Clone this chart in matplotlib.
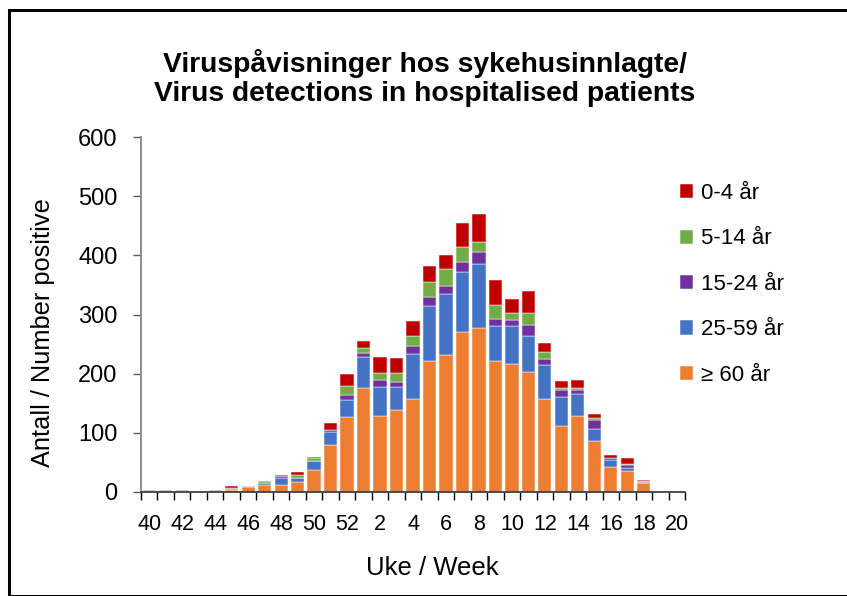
import numpy as np
import matplotlib.pyplot as plt
from matplotlib.patches import Rectangle

plt.rcParams['font.family'] = ['Liberation Sans', 'DejaVu Sans']

# weeks 40-52 then 1-20
weeks = list(range(40, 53)) + list(range(1, 21))
tick_labels = [str(w) if w % 2 == 0 else '' for w in weeks]

age_60 = [0, 0, 2, 0, 0, 3, 8, 12, 11, 17, 37, 79, 126, 176, 128, 138, 157,
          221, 232, 270, 278, 221, 217, 203, 157, 111, 128, 86, 42, 35, 15, 0, 0]
age_25_59 = [1, 1, 0, 0, 2, 2, 2, 4, 12, 6, 15, 22, 30, 53, 50, 40, 77,
             93, 103, 102, 107, 59, 63, 61, 57, 50, 38, 21, 12, 6, 2, 0, 0]
age_15_24 = [2, 2, 1, 0, 1, 1, 0, 0, 4, 0, 1, 4, 8, 6, 12, 8, 12,
             16, 13, 17, 20, 13, 11, 19, 10, 12, 7, 14, 3, 4, 2, 0, 0]
age_5_14 = [0, 0, 0, 0, 0, 0, 0, 2, 0, 6, 4, 0, 16, 8, 11, 15, 17,
            25, 29, 25, 17, 23, 11, 19, 13, 3, 3, 4, 0, 2, 0, 0, 0]
age_0_4 = [0, 0, 1, 0, 1, 4, 0, 0, 2, 4, 2, 12, 20, 12, 27, 25, 26,
           27, 23, 40, 48, 42, 25, 37, 14, 11, 13, 6, 6, 10, 2, 0, 0]

series = [
    ('≥ 60 år', age_60, '#ED7D31'),
    ('25-59 år', age_25_59, '#4472C4'),
    ('15-24 år', age_15_24, '#7030A0'),
    ('5-14 år', age_5_14, '#70AD47'),
    ('0-4 år', age_0_4, '#C00000'),
]

W, H = 847, 596
fig = plt.figure(figsize=(W / 100, H / 100), dpi=100)

# outer chart frame
fig.patches.append(Rectangle((9 / W, 0), 1.0, 1 - 10 / H, transform=fig.transFigure,
                             fill=False, edgecolor='black', linewidth=2.2))

ax = fig.add_axes([141 / W, 104 / H, 544 / W, 355 / H])
x = np.arange(len(weeks))
bottom = np.zeros(len(weeks))
handles = {}
for name, vals, col in series:
    vals = np.array(vals, dtype=float)
    b = ax.bar(x, vals, 0.8, bottom=bottom, color=col, edgecolor='white',
               linewidth=0.35, label=name)
    handles[name] = b
    bottom += vals

ax.set_xlim(-0.5, len(weeks) - 0.5)
ax.set_ylim(0, 600)
ax.set_yticks(range(0, 601, 100))
ax.tick_params(axis='y', labelsize=17, length=6, width=1, color='#595959', pad=11)
ax.set_xticks(x)
ax.set_xticklabels(tick_labels, fontsize=15.5)
ax.tick_params(axis='x', length=0, pad=16)
ax.set_xticks(np.arange(-0.5, len(weeks)), minor=True)
ax.tick_params(axis='x', which='minor', length=6, width=1, color='black')

for s in ['top', 'right']:
    ax.spines[s].set_visible(False)
ax.spines['left'].set_color('#868686')
ax.spines['left'].set_linewidth(1.3)
ax.spines['bottom'].set_color('#404040')
ax.spines['bottom'].set_linewidth(1.3)

order = ['0-4 år', '5-14 år', '15-24 år', '25-59 år', '≥ 60 år']
leg = ax.legend([handles[n] for n in order], order, loc='upper left',
                bbox_to_anchor=(660 / W, 1 - 163 / H), bbox_transform=fig.transFigure,
                frameon=False, fontsize=16, handlelength=0.6, handleheight=0.6,
                handletextpad=0.35, labelspacing=1.1)

fig.text(425 / W, 1 - 78 / H, 'Viruspåvisninger hos sykehusinnlagte/\nVirus detections in hospitalised patients',
         ha='center', va='center', fontsize=20.3, fontweight='bold', linespacing=1.12)
fig.text(43 / W, 1 - 333 / H, 'Antall / Number positive', rotation=90,
         ha='center', va='center', fontsize=18.3)
fig.text(432 / W, 1 - 568 / H, 'Uke / Week', ha='center', va='center', fontsize=18.5)

fig.savefig('out.png', dpi=100)
